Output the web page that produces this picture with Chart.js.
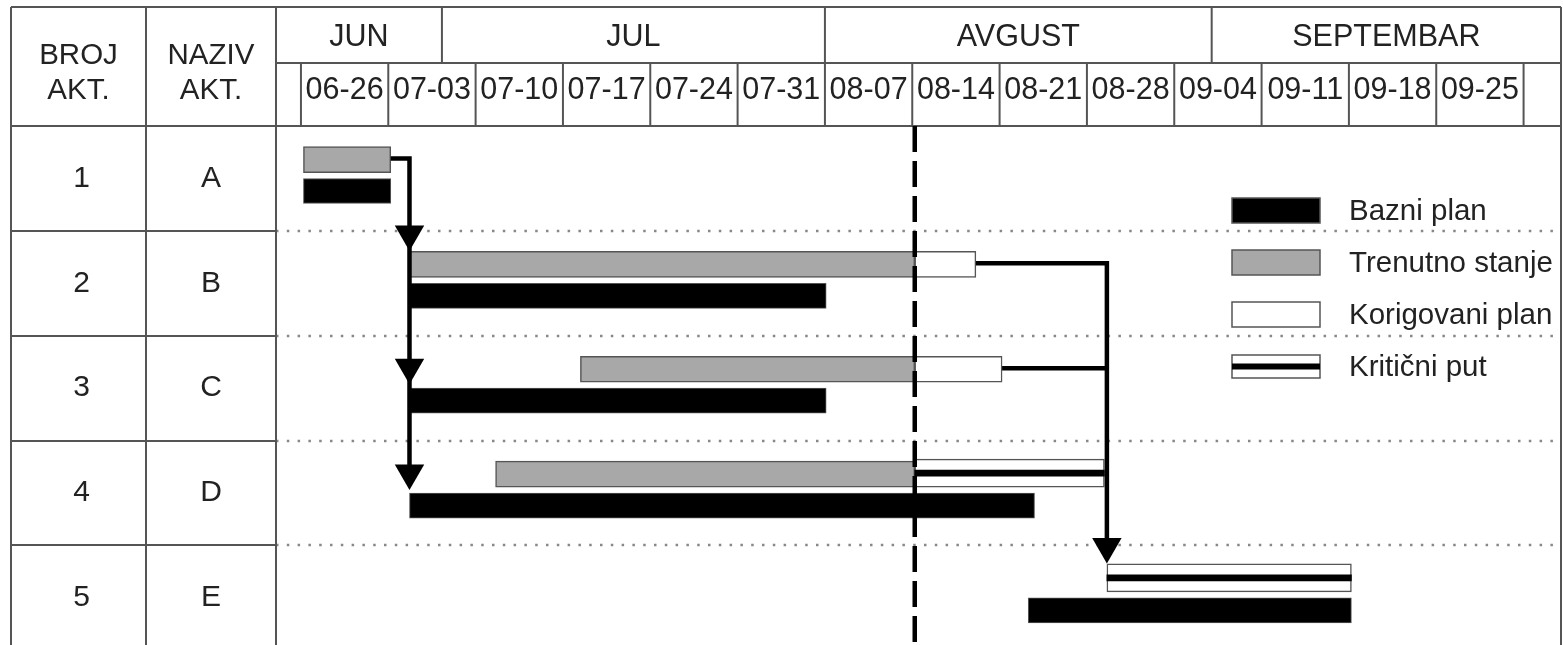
<!DOCTYPE html>
<html>
<head>
<meta charset="utf-8">
<script src="https://cdn.jsdelivr.net/npm/chart.js@4/dist/chart.umd.min.js"></script>
<style>
  html, body { margin: 0; background: #fff; }
  #wrap { width: 1563px; height: 645px; }
</style>
</head>
<body>
<div id="wrap"><canvas id="gantt"></canvas></div>
<script>
// x values are days counted from 06-26, y values are row positions (row i spans i..i+1)
const weekLabels = ['06-26', '07-03', '07-10', '07-17', '07-24', '07-31', '08-07',
  '08-14', '08-21', '08-28', '09-04', '09-11', '09-18', '09-25'];
const weekStarts = [0, 7, 14, 21, 28, 35, 42, 49, 56, 63, 70, 77, 84, 91];
const monthLabels = ['JUN', 'JUL', 'AVGUST', 'SEPTEMBAR'];
const monthBreaks = [-2, 11.3, 42, 73, 101];
const activityNo = ['1', '2', '3', '4', '5'];
const activityName = ['A', 'B', 'C', 'D', 'E'];

const baseline  = [[0.2, 7.2], [8.7, 42.1], [8.7, 42.1], [8.7, 58.8], [58.3, 84.2]];
const current   = [[0.2, 7.2], [8.7, 49.2], [22.4, 49.2], [15.6, 49.2], null];
const corrected = [null, [49.2, 54.1], [49.2, 56.2], null, null];
const critical  = [null, null, null, [49.2, 64.4], [64.6, 84.2]];
const statusDay = 49.2;

// dependency links [day, row position]
const linkA  = [[7.2, 0.31], [8.7, 0.31], [8.7, 3.3]];
const linkB  = [[54.1, 1.31], [64.6, 1.31], [64.6, 4.0]];
const linkC  = [[56.2, 2.31], [64.6, 2.31]];
const arrows = [[8.7, 1.03], [8.7, 2.3], [8.7, 3.31], [64.6, 4.01]];

const UPPER = 0.32, LOWER = 0.62;
const FONT = '"Liberation Sans", Arial, sans-serif';

function bars(list, lane) {
  const out = [];
  list.forEach((r, i) => { if (r) out.push({ x: r, y: i + lane }); });
  return out;
}
function pts(list) { return list.map(p => ({ x: p[0], y: p[1] })); }

const barCommon = { type: 'bar', indexAxis: 'y', grouped: false, borderSkipped: false };
const lineCommon = { type: 'line', indexAxis: 'x', pointRadius: 0, borderColor: '#000', borderWidth: 4.5, fill: false, tension: 0 };

const legendItems = [
  { label: 'Bazni plan', fill: '#000' },
  { label: 'Trenutno stanje', fill: '#a8a8a8' },
  { label: 'Korigovani plan', fill: '#fff' },
  { label: 'Kritični put', fill: '#fff', core: true }
];

const tablePlugin = {
  id: 'table',
  beforeDraw(chart) {
    const c = chart.ctx;
    c.save();
    c.fillStyle = '#fff';
    c.fillRect(0, 0, chart.width, chart.height);
    c.restore();
  },
  beforeDatasetsDraw(chart) {
    const c = chart.ctx, x = chart.scales.x, y = chart.scales.y;
    const L = 11, C1 = 146, C2 = 276, R = 1561, T = 7, MID = 63, B0 = chart.chartArea.top, B = chart.height;
    c.save();
    // dotted row separators
    c.strokeStyle = '#888';
    c.lineWidth = 2.5;
    c.setLineDash([2.5, 8.3]);
    for (let i = 1; i < activityNo.length; i++) {
      const py = Math.round(y.getPixelForValue(i));
      c.beginPath(); c.moveTo(C2, py); c.lineTo(R, py); c.stroke();
    }
    c.setLineDash([]);
    c.strokeStyle = '#555';
    c.lineWidth = 2;
    const line = (x1, y1, x2, y2) => { c.beginPath(); c.moveTo(x1, y1); c.lineTo(x2, y2); c.stroke(); };
    line(L, T, R, T);
    line(L, T, L, B);
    line(R, T, R, B);
    line(C1, T, C1, B);
    line(C2, T, C2, B);
    line(C2, MID, R, MID);
    line(L, B0, R, B0);
    for (let i = 1; i < activityNo.length; i++) {
      const py = Math.round(y.getPixelForValue(i));
      line(L, py, C2, py);
    }
    monthBreaks.slice(1, -1).forEach(d => { const px = x.getPixelForValue(d); line(px, T, px, MID); });
    weekStarts.concat([weekStarts[weekStarts.length - 1] + 7]).forEach(d => {
      const px = x.getPixelForValue(d); line(px, MID, px, B0);
    });
    // texts
    c.fillStyle = '#222';
    c.textAlign = 'center';
    c.textBaseline = 'middle';
    c.font = '29.5px ' + FONT;
    c.fillText('BROJ', (L + C1) / 2, 56);
    c.fillText('AKT.', (L + C1) / 2, 91);
    c.fillText('NAZIV', (C1 + C2) / 2, 56);
    c.fillText('AKT.', (C1 + C2) / 2, 91);
    c.font = '30.5px ' + FONT;
    monthLabels.forEach((m, i) => {
      c.fillText(m, (x.getPixelForValue(monthBreaks[i]) + x.getPixelForValue(monthBreaks[i + 1])) / 2, 38);
    });
    weekLabels.forEach((w, i) => {
      c.fillText(w, x.getPixelForValue(weekStarts[i] + 3.5), 91);
    });
    c.font = '30px ' + FONT;
    activityNo.forEach((n, i) => {
      const py = y.getPixelForValue(i + 0.5);
      c.fillText(n, (L + C1) / 2 + 3, py);
      c.fillText(activityName[i], (C1 + C2) / 2, py);
    });
    c.restore();
  },
  afterDatasetsDraw(chart) {
    const c = chart.ctx;
    const bx = 1232, bw = 88, tops = [198, 250, 302, 355];
    c.save();
    c.font = '29.5px ' + FONT;
    c.textBaseline = 'middle';
    c.textAlign = 'left';
    legendItems.forEach((it, i) => {
      const h = it.core ? 23 : 25;
      c.fillStyle = it.fill;
      c.fillRect(bx, tops[i], bw, h);
      c.strokeStyle = '#555';
      c.lineWidth = 1.5;
      c.strokeRect(bx, tops[i], bw, h);
      if (it.core) { c.fillStyle = '#000'; c.fillRect(bx, tops[i] + h / 2 - 3, bw, 6); }
      c.fillStyle = '#222';
      c.fillText(it.label, 1349, tops[i] + h / 2 + 1);
    });
    c.restore();
  }
};

new Chart(document.getElementById('gantt'), {
  type: 'bar',
  data: {
    datasets: [
      { ...lineCommon, label: 'status', data: [{ x: statusDay, y: 0 }, { x: statusDay, y: 5 }], borderDash: [26, 9], order: 0 },
      { ...lineCommon, label: 'arrows', data: pts(arrows), showLine: false, pointRadius: 17, pointStyle: 'triangle', rotation: 180, pointBackgroundColor: '#000', pointBorderWidth: 0, order: 1 },
      { ...lineCommon, label: 'linkA', data: pts(linkA), order: 2 },
      { ...lineCommon, label: 'linkB', data: pts(linkB), order: 3 },
      { ...lineCommon, label: 'linkC', data: pts(linkC), order: 4 },
      { ...barCommon, label: 'critical core', data: bars(critical, UPPER - 0.01), barThickness: 6, backgroundColor: '#000', borderWidth: 0, order: 5 },
      { ...barCommon, label: 'Kritični put', data: bars(critical, UPPER - 0.01), barThickness: 28, backgroundColor: '#fff', borderColor: '#555', borderWidth: 1.5, order: 6 },
      { ...barCommon, label: 'Korigovani plan', data: bars(corrected, UPPER), barThickness: 26, backgroundColor: '#fff', borderColor: '#555', borderWidth: 1.5, order: 7 },
      { ...barCommon, label: 'Trenutno stanje', data: bars(current, UPPER), barThickness: 26, backgroundColor: '#a8a8a8', borderColor: '#555', borderWidth: 1.5, order: 8 },
      { ...barCommon, label: 'Bazni plan', data: bars(baseline, LOWER), barThickness: 25, backgroundColor: '#000', borderColor: '#555', borderWidth: 1, order: 9 }
    ]
  },
  options: {
    responsive: true,
    maintainAspectRatio: false,
    animation: false,
    events: [],
    layout: { autoPadding: false, padding: { left: 276, right: 2, top: 126, bottom: 0 } },
    scales: {
      x: { type: 'linear', min: -2, max: 101, display: false, offset: false },
      y: { type: 'linear', min: 0, max: 4.95, reverse: true, display: false, offset: false }
    },
    plugins: { legend: { display: false }, tooltip: { enabled: false } }
  },
  plugins: [tablePlugin]
});
</script>
</body>
</html>
